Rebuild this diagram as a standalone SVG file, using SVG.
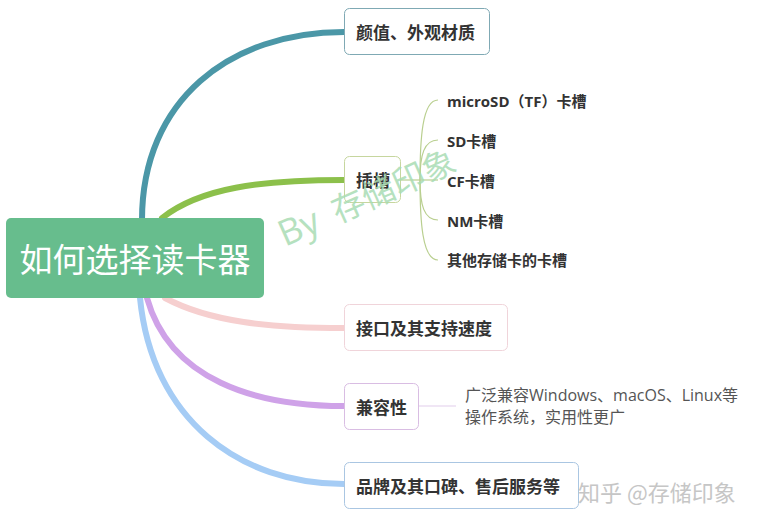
<svg xmlns="http://www.w3.org/2000/svg" width="757" height="523" viewBox="0 0 757 523">
<style>
.br{fill:none;stroke-width:6;stroke-linecap:round}
.box{fill:#fff;stroke-width:1}
.nt{font-family:"Open Sans","Noto Sans CJK SC",sans-serif;font-weight:bold;font-size:17px;fill:#333;dominant-baseline:central}
.st{font-family:"Open Sans","Noto Sans CJK SC",sans-serif;font-weight:bold;font-size:15px;fill:#333;dominant-baseline:central}
.dt{font-family:"Open Sans","Noto Sans CJK SC",sans-serif;font-size:16px;fill:#555;dominant-baseline:central}
.thin{fill:none;stroke-width:1.2}
</style>
<rect width="757" height="523" fill="#fff"/>
<g id="connectors">
<path class="br" stroke="#4b97a7" d="M142,220 C142,100 230,32 344,32"/>
<path class="br" stroke="#8cc04b" d="M162,218 C200,188 260,180 344,180"/>
<path class="br" stroke="#f6cfcf" d="M165,298 C210,322 270,328 344,328"/>
<path class="br" stroke="#cfa2e8" d="M147,298 C170,380 255,406 344,406"/>
<path class="br" stroke="#a5ccf5" d="M140,298 C152,420 240,484 344,484"/>
<g stroke="#b9cf8f" class="thin">
<path class="thin" d="M401,180 H420"/>
<path class="thin" d="M420,180 C420,140 422,100 438,100"/>
<path class="thin" d="M420,180 C420,155 424,140 438,140"/>
<path class="thin" d="M420,180 H438"/>
<path class="thin" d="M420,180 C420,205 424,220 438,220"/>
<path class="thin" d="M420,180 C420,220 422,260 438,260"/>
</g>
<path class="thin" stroke="#e2cdec" d="M418,406 H456"/>
</g>
<g id="root">
<rect x="6" y="218" width="258" height="80" rx="5" fill="#67bd8d"/>
<text x="135" y="259" text-anchor="middle" font-family="'Open Sans','Noto Sans CJK SC',sans-serif" font-size="33" fill="#fff" dominant-baseline="central">如何选择读卡器</text>
</g>
<g id="n1">
<rect class="box" x="344.5" y="8.5" width="145" height="46" rx="5" stroke="#7fa9b4"/>
<text class="nt" x="356" y="32">颜值、外观材质</text>
</g>
<g id="n2">
<rect class="box" x="344.5" y="156.5" width="56" height="46" rx="5" stroke="#c6d69e"/>
<text class="nt" x="356" y="180">插槽</text>
</g>
<g id="n2a"><text class="st" x="447" y="101">microSD（TF）卡槽</text></g>
<g id="n2b"><text class="st" x="447" y="141">SD卡槽</text></g>
<g id="n2c"><text class="st" x="447" y="181">CF卡槽</text></g>
<g id="n2d"><text class="st" x="447" y="221">NM卡槽</text></g>
<g id="n2e"><text class="st" x="447" y="260">其他存储卡的卡槽</text></g>
<g id="n3">
<rect class="box" x="344.5" y="304.5" width="163" height="46" rx="5" stroke="#f0d4da"/>
<text class="nt" x="356" y="328">接口及其支持速度</text>
</g>
<g id="n4">
<rect class="box" x="344.5" y="383.5" width="74" height="46" rx="5" stroke="#d9bde3"/>
<text class="nt" x="356" y="407">兼容性</text>
</g>
<g id="n4a">
<text class="dt" x="465" y="395">广泛兼容Windows、macOS、Linux等</text>
<text class="dt" x="465" y="417">操作系统，实用性更广</text>
</g>
<g id="n5">
<rect class="box" x="344.5" y="462.5" width="234" height="46" rx="5" stroke="#aac6e2"/>
<text class="nt" x="356" y="486">品牌及其口碑、售后服务等</text>
</g>
<g id="watermark" font-family="'Open Sans','Noto Sans CJK SC',sans-serif" fill="#a9dcb4" opacity="0.85">
<g transform="translate(285,247) rotate(-24)">
<text x="0" y="0" font-size="36">By</text>
<text x="58" y="0" font-size="33">存储印象</text>
</g>
</g>
<text x="578" y="491" font-family="'Noto Sans CJK SC',sans-serif" font-size="22" fill="#c6c6c6" dominant-baseline="central">知乎 @存储印象</text>
</svg>
